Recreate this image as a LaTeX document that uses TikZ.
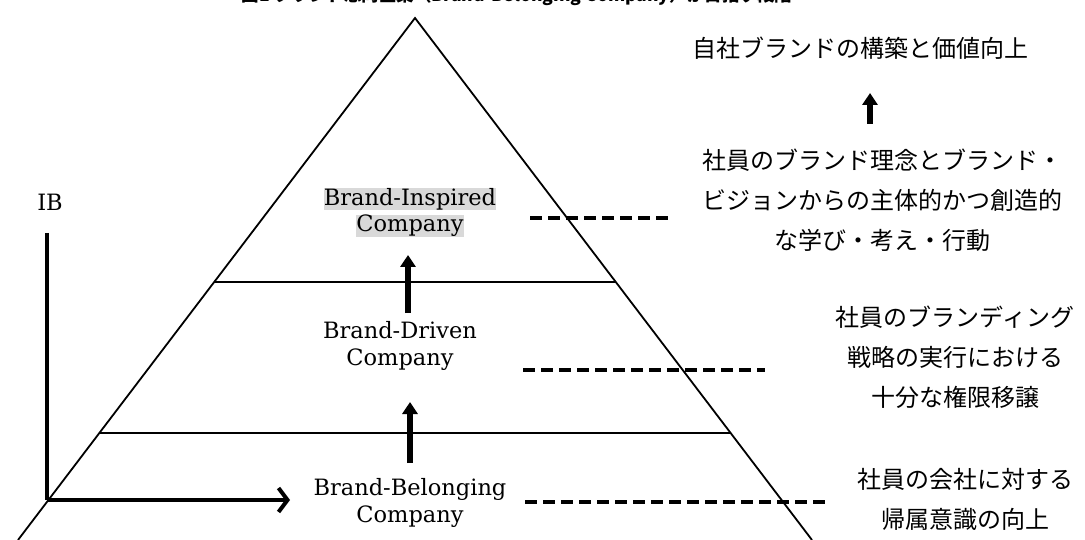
\documentclass[tikz,border=0pt]{standalone}
\usepackage{fontspec}
\newfontfamily\jp{Noto Sans CJK JP}
\newfontfamily\engfont{DejaVu Serif}
\usetikzlibrary{arrows.meta}
\begin{document}
\begin{tikzpicture}[x=1pt,y=-1pt,
  tri/.style={line width=1.8pt},
  axis/.style={line width=4pt},
  levelarrow/.style={line width=6.5pt,-{Triangle[width=15pt,length=12pt]}},
  dashline/.style={line width=3.5pt,dash pattern=on 12pt off 6pt},
  eng/.style={font=\engfont\fontsize{22.5}{27}\selectfont,inner sep=1pt,align=center},
  hl/.style={eng,fill=black!15,inner sep=0pt},
  jptext/.style={font=\jp\fontsize{24}{40}\selectfont,align=center,inner sep=0pt}]
\useasboundingbox (0,0) rectangle (1085,540);
% title (cut off at top)
\node[font=\jp\bfseries\fontsize{17.5}{20}\selectfont] (title) at (517,-4) {図1 ブランド志向企業（Brand-Belonging Company）が目指す段階};
% pyramid
\coordinate (apex) at (415,18);
\coordinate (bl) at (18,540);
\coordinate (br) at (812,540);
\draw[tri] (bl) -- (apex) -- (br);
\draw[tri] (214,282) -- (616,282);
\draw[tri] (99,433) -- (731,433);
% axes
\coordinate (origin) at (47,500);
\coordinate (ytop) at (47,233);
\coordinate (xend) at (290,500);
\draw[axis] (ytop) -- (origin);
\draw[axis,-{Straight Barb[length=9pt,width=24pt]}] (origin) -- (xend);
\node[eng] (ib) at (50,202) {IB};
% level labels
\node[hl] (bi1) at (410,199) {Brand-Inspired};
\node[hl] (bi2) at (410,226) {Company};
\node[eng] (bd) at (400,346) {Brand-Driven\\Company};
\node[eng] (bb) at (410,503) {Brand-Belonging\\Company};
% level arrows
\coordinate (a1s) at (408,313);
\coordinate (a1e) at (408,255);
\coordinate (a2s) at (410,463);
\coordinate (a2e) at (410,402);
\draw[levelarrow] (a1s) -- (a1e);
\draw[levelarrow] (a2s) -- (a2e);
% right texts
\node[jptext] (goal) at (860,48) {自社ブランドの構築と価値向上};
\node[jptext] (t1) at (882,200) {社員のブランド理念とブランド・\\ビジョンからの主体的かつ創造的\\な学び・考え・行動};
\node[jptext] (t2) at (955,357) {社員のブランディング\\戦略の実行における\\十分な権限移譲};
\node[jptext] (t3) at (965,499) {社員の会社に対する\\帰属意識の向上};
\coordinate (ga1) at (870,124);
\coordinate (ga2) at (870,93);
\draw[levelarrow] (ga1) -- (ga2);
% dashed connectors
\coordinate (d1a) at (530,218);
\coordinate (d1b) at (673,218);
\coordinate (d2a) at (523,370);
\coordinate (d2b) at (765,370);
\coordinate (d3a) at (525,502);
\coordinate (d3b) at (828,502);
\draw[dashline] (d1a) -- (d1b);
\draw[dashline] (d2a) -- (d2b);
\draw[dashline] (d3a) -- (d3b);
\end{tikzpicture}
\end{document}
